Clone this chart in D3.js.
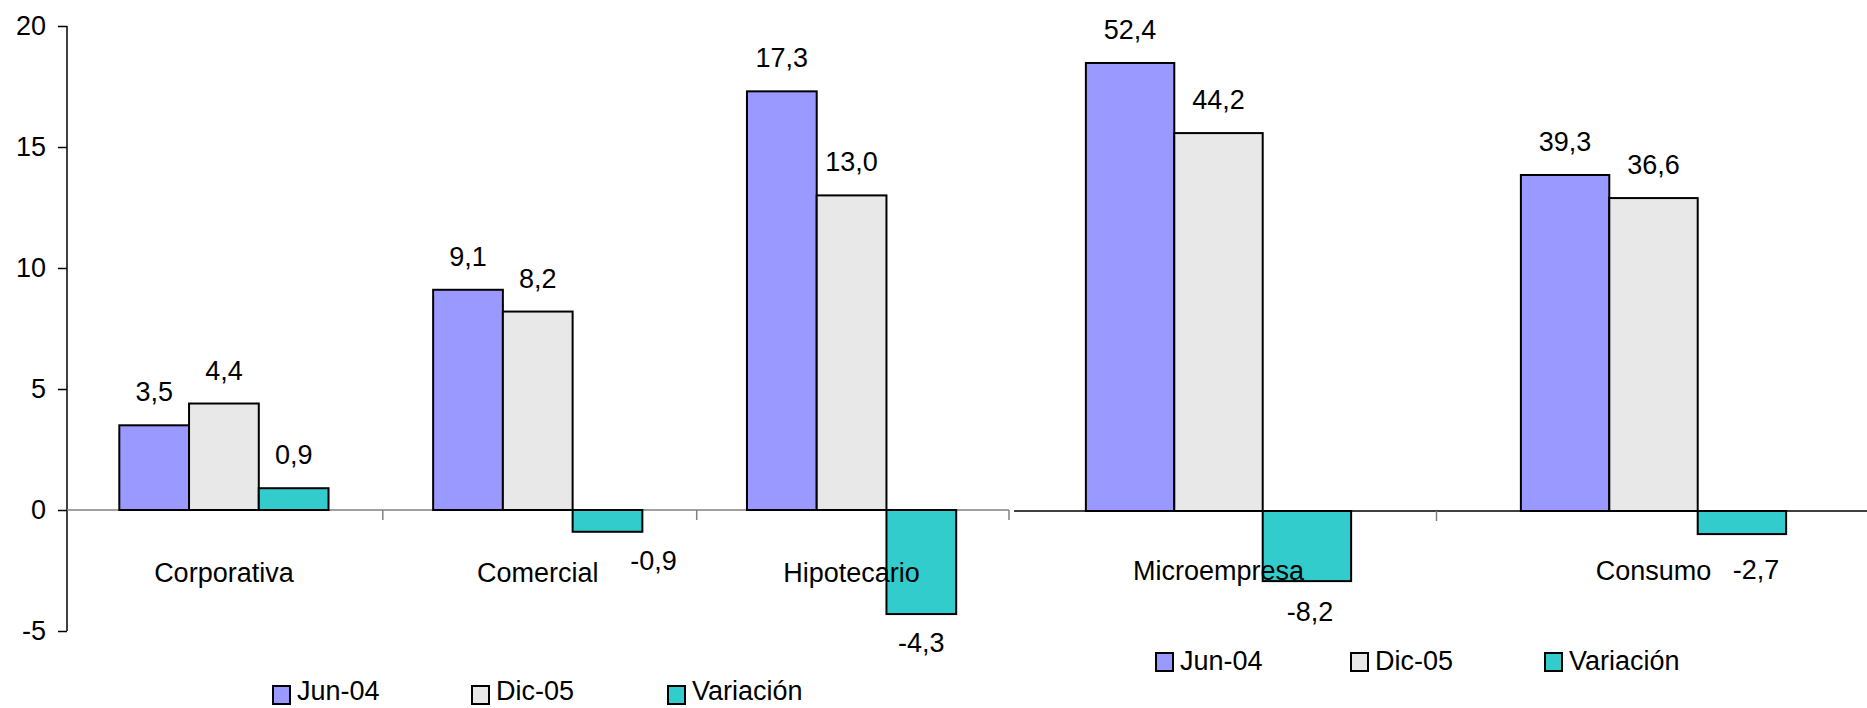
<!DOCTYPE html>
<html>
<head>
<meta charset="utf-8">
<script src="https://cdn.jsdelivr.net/npm/d3@7"></script>
<style>
  body { margin: 0; background: #fff; }
  svg text { font-family: Arial, "Liberation Sans", sans-serif; fill: #000; }
</style>
</head>
<body>
<div id="chart"></div>
<script>
// data
var categoriesLeft = ["Corporativa", "Comercial", "Hipotecario"];
var categoriesRight = ["Microempresa", "Consumo"];
var seriesNames = ["Jun-04", "Dic-05", "Variación"];
var jun04 = [3.5, 9.1, 17.3, 52.4, 39.3];
var dic05 = [4.4, 8.2, 13.0, 44.2, 36.6];
var variacion = [0.9, -0.9, -4.3, -8.2, -2.7];
var yTicks = [-5, 0, 5, 10, 15, 20];

var colors = { "Jun-04": "#9999FF", "Dic-05": "#E8E8E8", "Variación": "#33CCCC" };
var fontSize = 27;

var width = 1867, height = 708;
var svg = d3.select("#chart").append("svg")
    .attr("width", width)
    .attr("height", height);

var fmt = function (v) { return d3.format(".1f")(v).replace(".", ",").replace("−", "-"); };

// hand-moved data labels in the original
var labelNudge = { "Comercial|Variación": { dx: 46, dy: 0 }, "Consumo|Variación": { dx: 14, dy: 7 }, "Microempresa|Variación": { dx: 3, dy: 2 } };

function rowsFor(cats, offset) {
    return cats.map(function (c, i) {
        var k = i + offset;
        return { cat: c, values: [
            { name: "Jun-04", value: jun04[k] },
            { name: "Dic-05", value: dic05[k] },
            { name: "Variación", value: variacion[k] }
        ] };
    });
}

function drawPanel(opts) {
    var x0 = d3.scaleBand().domain(opts.cats).range(opts.xRange).padding(0);
    var x1 = d3.scaleBand().domain(seriesNames).range([0, x0.bandwidth()])
        .paddingInner(0).paddingOuter(opts.outer);
    var y = opts.y;
    var zero = y(0);

    var g = svg.append("g");

    // baseline
    g.append("line")
        .attr("x1", opts.lineFrom).attr("x2", opts.lineTo)
        .attr("y1", zero).attr("y2", zero)
        .style("stroke", opts.lineColor).style("stroke-width", 1.5);

    // category ticks
    g.selectAll(".ctick")
        .data(opts.catTicks)
        .enter().append("line")
        .attr("x1", function (d) { return d; }).attr("x2", function (d) { return d; })
        .attr("y1", zero).attr("y2", zero + 10)
        .style("stroke", "#808080").style("stroke-width", 1.5);

    var groups = g.selectAll(".cat")
        .data(rowsFor(opts.cats, opts.offset))
        .enter().append("g")
        .attr("transform", function (d) { return "translate(" + x0(d.cat) + ",0)"; });

    groups.selectAll("rect")
        .data(function (d) { return d.values; })
        .enter().append("rect")
        .attr("x", function (d) { return x1(d.name); })
        .attr("y", function (d) { return Math.min(y(d.value), zero); })
        .attr("width", x1.bandwidth())
        .attr("height", function (d) { return Math.abs(y(d.value) - zero); })
        .style("fill", function (d) { return colors[d.name]; })
        .style("stroke", "#000")
        .style("stroke-width", 2);

    // category labels
    groups.append("text")
        .attr("x", x0.bandwidth() / 2)
        .attr("y", opts.catLabelY)
        .attr("text-anchor", "middle")
        .style("font-size", fontSize + "px")
        .text(function (d) { return d.cat; });

    // value labels
    groups.each(function (row) {
        d3.select(this).selectAll(".val")
            .data(row.values)
            .enter().append("text")
            .attr("class", "val")
            .attr("text-anchor", "middle")
            .style("font-size", fontSize + "px")
            .attr("x", function (d) {
                var n = labelNudge[row.cat + "|" + d.name];
                return x1(d.name) + x1.bandwidth() / 2 + (n ? n.dx : 0);
            })
            .attr("y", function (d) {
                var n = labelNudge[row.cat + "|" + d.name];
                var base = d.value >= 0 ? y(d.value) - 24 : y(d.value) + 38;
                return base + (n ? n.dy : 0);
            })
            .text(function (d) { return fmt(d.value); });
    });

    // legend
    var leg = g.selectAll(".leg")
        .data(seriesNames)
        .enter().append("g")
        .attr("transform", function (d, i) { return "translate(" + opts.legendX[i] + "," + opts.legendY + ")"; });
    leg.append("rect")
        .attr("x", 0).attr("y", opts.swatchY)
        .attr("width", 17).attr("height", 18)
        .style("fill", function (d) { return colors[d]; })
        .style("stroke", "#000").style("stroke-width", 2);
    leg.append("text")
        .attr("x", 24).attr("y", 0)
        .style("font-size", fontSize + "px")
        .text(function (d) { return d; });
}

// left panel with visible y axis
var yLeft = d3.scaleLinear().domain([-5, 20]).range([631, 26]);
var axisG = svg.append("g").attr("transform", "translate(67,0)");
axisG.call(d3.axisLeft(yLeft).tickValues(yTicks).tickSize(9).tickPadding(12)
    .tickFormat(function (d) { return d; }));
axisG.select(".domain").style("stroke", "#000").style("stroke-width", 1.5)
    .attr("d", "M0," + yLeft(20) + "V" + yLeft(-5));
axisG.selectAll(".tick line").style("stroke", "#000").style("stroke-width", 1.5);
axisG.selectAll(".tick text")
    .style("font-size", fontSize + "px")
    .style("font-family", "Arial, 'Liberation Sans', sans-serif")
    .attr("fill", "#000");

drawPanel({
    cats: categoriesLeft, offset: 0,
    xRange: [67, 1008.5], outer: 0.75,
    y: yLeft,
    lineFrom: 67, lineTo: 1009, lineColor: "#808080",
    catTicks: [382.8, 696.7, 1009],
    catLabelY: 582,
    legendX: [273, 472, 668], legendY: 700, swatchY: -14
});

// right panel, own scale, no visible axis
var yRight = d3.scaleLinear().domain([-10, 55]).range([596.5, 40.75]);
drawPanel({
    cats: categoriesRight, offset: 3,
    xRange: [1001, 1871], outer: 0.96,
    y: yRight,
    lineFrom: 1014, lineTo: 1867, lineColor: "#000",
    catTicks: [1436.5],
    catLabelY: 580,
    legendX: [1156, 1351, 1545], legendY: 670, swatchY: -17
});
</script>
</body>
</html>
